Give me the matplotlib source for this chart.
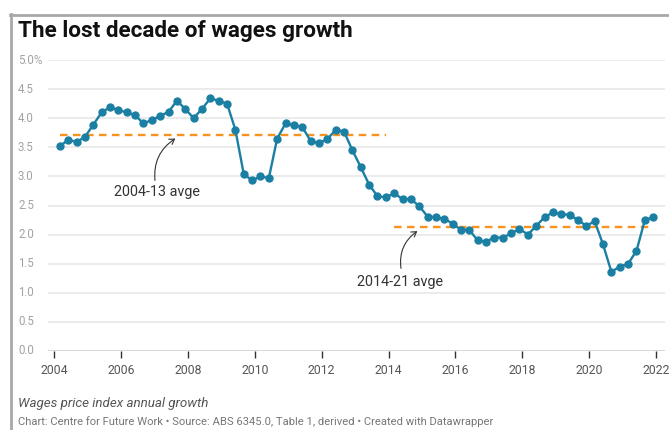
import numpy as np
import matplotlib
matplotlib.use("Agg")
from matplotlib import pyplot as plt
from matplotlib.lines import Line2D
from matplotlib.transforms import blended_transform_factory

# quarterly wage price index growth, % over the year
quarters = [f"{y}Q{q}" for y in range(2004, 2022) for q in range(1, 5)]
wpi = [3.52, 3.63, 3.59, 3.68, 3.89, 4.10, 4.19, 4.14, 4.10, 4.05,
       3.91, 3.97, 4.04, 4.11, 4.30, 4.16, 4.00, 4.16, 4.34, 4.30,
       4.25, 3.80, 3.04, 2.93, 3.00, 2.97, 3.65, 3.91, 3.88, 3.85,
       3.61, 3.57, 3.64, 3.80, 3.77, 3.45, 3.16, 2.86, 2.66, 2.64,
       2.71, 2.61, 2.61, 2.49, 2.31, 2.30, 2.27, 2.19, 2.08, 2.08,
       1.90, 1.88, 1.95, 1.95, 2.02, 2.10, 2.00, 2.15, 2.30, 2.38,
       2.35, 2.34, 2.25, 2.15, 2.23, 1.83, 1.36, 1.45, 1.50, 1.72,
       2.25, 2.30]
periods = [("2004-13 avge", "2004Q1", "2013Q4"),
           ("2014-21 avge", "2014Q1", "2021Q4")]
y_ticks = [0.0, 0.5, 1.0, 1.5, 2.0, 2.5, 3.0, 3.5, 4.0, 4.5, 5.0]
x_ticks = list(range(2004, 2023, 2))

BLUE = "#1b7fa3"
ORANGE = "#f7931e"
DARK = "#333333"


def quarter_to_year(label):
    y, q = label.split("Q")
    return int(y) + (3 * int(q) - 1) / 12


plt.rcParams["font.family"] = ["Roboto", "DejaVu Sans"]

W, H = 669, 430
fig = plt.figure(figsize=(W / 100, H / 100), dpi=100)
ax = fig.add_axes([48 / W, 1 - 351 / H, 617 / W, 291 / H])

x = np.array([quarter_to_year(q) for q in quarters])
y = np.array(wpi)

ax.set_xlim(2003.81, 2022.27)
ax.set_ylim(0, 5)

for v in y_ticks[1:]:
    ax.axhline(v, color="#e6e6e6", lw=1.1, zorder=0)
ax.axhline(0, color=DARK, lw=1.0, zorder=1)

# period averages
for name, start, end in periods:
    mask = (x >= quarter_to_year(start)) & (x <= quarter_to_year(end))
    avg = y[mask].mean()
    ax.plot([x[mask][0], x[mask][-1]], [avg, avg], color=ORANGE, lw=1.7,
            dashes=(3.2, 2.3), zorder=2)

ax.plot(x, y, color=BLUE, lw=1.7, marker="o", ms=5, mfc=BLUE, mec=BLUE,
        zorder=3, clip_on=False)

# annotations for the averages
notes = [("2004-13 avge", (2007.07, 2.73), (2007.01, 2.93), (2007.62, 3.65)),
         ("2014-21 avge", (2014.34, 1.19), (2014.37, 1.42), (2014.86, 2.06))]
for text, pos, start, tip in notes:
    ax.text(pos[0], pos[1], text, ha="center", va="center", fontsize=10.4,
            color=DARK)
    ax.annotate("", xy=tip, xytext=start,
                arrowprops=dict(arrowstyle="->,head_length=0.35,head_width=0.22",
                                connectionstyle="arc3,rad=-0.3",
                                color=DARK, lw=0.8, shrinkA=0, shrinkB=0))

for s in ax.spines.values():
    s.set_visible(False)
ax.set_yticks([])
ax.set_xticks(x_ticks)
ax.set_xticklabels([str(t) for t in x_ticks], fontsize=8.8, color="#555555")
ax.tick_params(axis="x", length=5, width=1, color=DARK, pad=4)

lab_tr = blended_transform_factory(fig.transFigure, ax.transData)
for v in y_ticks:
    lab = f"{v:.1f}%" if v == y_ticks[-1] else f"{v:.1f}"
    ax.text(18 / W, v, lab, transform=lab_tr, ha="left", va="center",
            fontsize=8.3, color="#a3a3a3")

fig.text(18 / W, 1 - 31 / H, "The lost decade of wages growth",
         fontsize=16.2, fontweight="bold", color="#111111", va="center",
         family=["Liberation Sans Narrow", "Roboto"])
fig.text(18 / W, 1 - 403 / H, "Wages price index annual growth",
         fontsize=9.6, style="italic", color="#555555", va="center")
fig.text(18 / W, 1 - 422 / H,
         "Chart: Centre for Future Work \u2022 Source: ABS 6345.0, Table 1, "
         "derived \u2022 Created with Datawrapper",
         fontsize=8.1, color="#777777", va="center")

# frame of the card
fig.add_artist(Line2D([10.5 / W, 10.5 / W], [0, 1 - 14 / H],
                      color="#a8a8a8", lw=2, transform=fig.transFigure))
fig.add_artist(Line2D([10 / W, 1], [1 - 14.5 / H, 1 - 14.5 / H],
                      color="#a8a8a8", lw=2, transform=fig.transFigure))

fig.savefig("out.png", dpi=100)
